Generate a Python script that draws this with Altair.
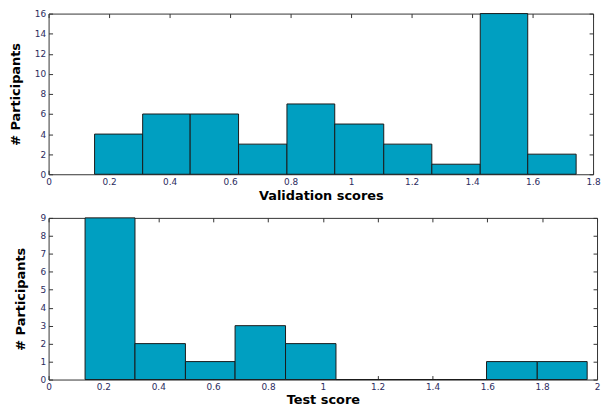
import altair as alt
import pandas as pd

# Validation scores histogram
val_edges = [0.152, 0.311, 0.468, 0.628, 0.788, 0.946, 1.108, 1.267, 1.427, 1.584, 1.744]
val_counts = [4, 6, 6, 3, 7, 5, 3, 1, 16, 2]
val_xticks = [0, 0.2, 0.4, 0.6, 0.8, 1, 1.2, 1.4, 1.6, 1.8]
val_yticks = [0, 2, 4, 6, 8, 10, 12, 14, 16]

# Test score histogram
test_edges = [0.133, 0.315, 0.499, 0.680, 0.864, 1.048, 1.231, 1.414, 1.597, 1.782, 1.964]
test_counts = [9, 2, 1, 3, 2, 0, 0, 0, 1, 1]
test_xticks = [0, 0.2, 0.4, 0.6, 0.8, 1, 1.2, 1.4, 1.6, 1.8, 2]
test_yticks = [0, 1, 2, 3, 4, 5, 6, 7, 8, 9]

BAR = "#009fc1"
LABEL = "#2b2b5e"
FONT = "DejaVu Sans"


def hist(edges, counts, xticks, yticks, xmax, ymax, xtitle, w, h, ytp, xtp):
    df = pd.DataFrame({"x0": edges[:-1], "x1": edges[1:], "n": counts})
    xaxis = alt.Axis(values=xticks, title=xtitle, grid=True, gridColor="#333333",
                     gridDash=[4, h - 8, 4, 400], gridWidth=1, ticks=False, format="~g",
                     domain=False, labelFontSize=9, labelColor=LABEL, labelFont=FONT,
                     labelPadding=3, titleFont=FONT, titleFontSize=13, titleFontWeight="bold",
                     titleColor="black", titlePadding=xtp, labelFlush=False)
    yaxis = alt.Axis(values=yticks, title="# Participants", grid=True, gridColor="#333333",
                     gridDash=[4, w - 8, 4, 800], gridWidth=1, ticks=False, format="~g",
                     domain=False, labelFontSize=9, labelColor=LABEL, labelFont=FONT,
                     labelPadding=3, titleFont=FONT, titleFontSize=13, titleFontWeight="bold",
                     titleColor="black", titlePadding=ytp, labelFlush=False)
    return alt.Chart(df).mark_bar(color=BAR, stroke="#1a1a1a", strokeWidth=1).encode(
        x=alt.X("x0:Q", scale=alt.Scale(domain=[0, xmax], nice=False, zero=False), axis=xaxis),
        x2="x1:Q",
        y=alt.Y("n:Q", scale=alt.Scale(domain=[0, ymax], nice=False), axis=yaxis),
        y2=alt.datum(0),
    ).properties(width=w, height=h)


top = hist(val_edges, val_counts, val_xticks, val_yticks, 1.8, 16, "Validation scores",
           549, 162, 12, 3)
bottom = hist(test_edges, test_counts, test_xticks, test_yticks, 2, 9, "Test score",
              553, 163, 13, 2)

chart = alt.concat(top, bottom, columns=1, spacing=10, align="none").properties(
    padding={"left": 9, "top": 7, "right": 0, "bottom": 0},
    background="white",
).configure_view(stroke="#333333", strokeWidth=1)

chart.save("out.html", embed_options={"renderer": "svg", "actions": False})
